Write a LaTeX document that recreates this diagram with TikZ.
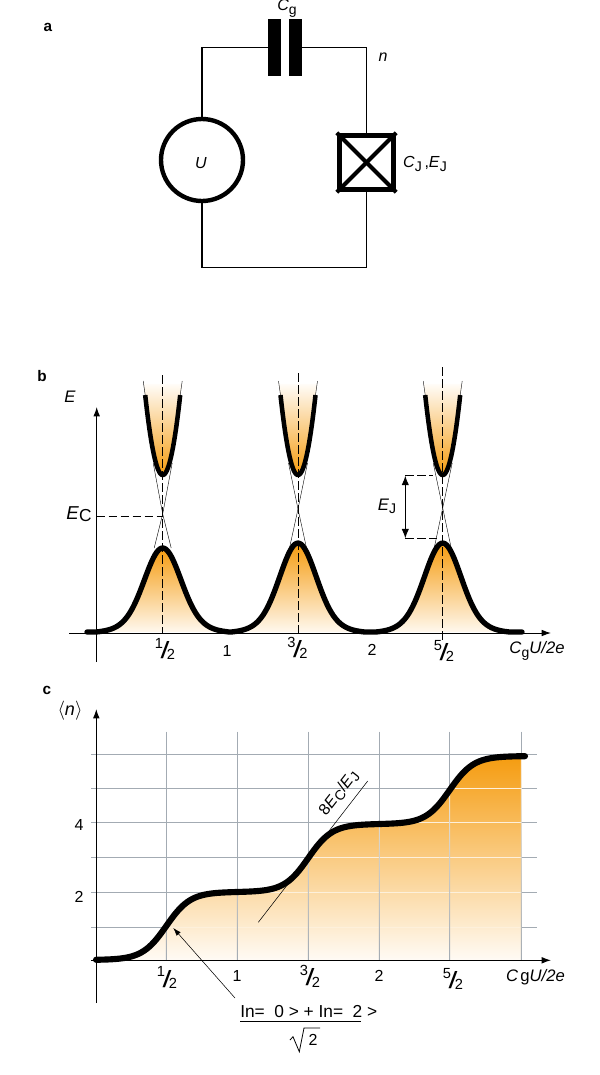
\documentclass[tikz,border=0pt]{standalone}
\usepackage{graphicx}
\usepackage{fontspec}
\setmainfont{Liberation Sans}
\usetikzlibrary{arrows.meta}
\definecolor{orangetop}{HTML}{F59C10}
\definecolor{palebot}{HTML}{FFF8EE}
\definecolor{gridgray}{HTML}{A3ABB3}
\newcommand{\lowsub}[1]{\raisebox{-2.5pt}{\fontsize{10.5}{11}\selectfont #1}}
\newcommand{\frc}[2]{\fontsize{11}{11}\selectfont\raisebox{4.4pt}{#1}\kern1.4pt\makebox[0pt][c]{\raisebox{-3.4pt}{\scalebox{1.5}[1.1]{\fontsize{16}{16}\selectfont\addfontfeatures{}/}}}\kern1.4pt\raisebox{-4.4pt}{#2}}
\pgfmathdeclarefunction{stp}{1}{\pgfmathparse{tanh(max(-4,min(4,(#1)/24)))}}
\pgfmathdeclarefunction{bell}{1}{\pgfmathparse{max(0,0.8*exp(-((#1)/17.5)^2/2)+0.2*exp(-((#1)/28)^2/2)-0.012)}}
\tikzset{
  lbl/.style={inner sep=0pt,font=\fontsize{12}{14}\selectfont},
  panel/.style={inner sep=0pt,font=\fontsize{11.5}{12}\selectfont\bfseries},
  wire/.style={line width=1.35pt},
  plate/.style={fill=black,draw=none,minimum width=9.5pt,minimum height=42.75pt,inner sep=0pt},
  axisline/.style={line width=.75pt,-{Latex[length=7pt,width=5pt]}},
  thickcurve/.style={line width=4pt,line cap=round,line join=round},
  thincross/.style={line width=.3pt},
  dashline/.style={line width=.6pt,dash pattern=on 6.5pt off 2.5pt},
  gridline/.style={line width=.75pt,draw=gridgray},
  bellfill/.style={top color=orangetop,bottom color=palebot,draw=none},
  cupfill/.style={top color=palebot!40!white,bottom color=orangetop,draw=none},
}
\begin{document}
\begin{tikzpicture}[x=0.75pt,y=-0.75pt]
\useasboundingbox (0,0) rectangle (600,1075);
% ---------- panel a
\node[panel] (pa) at (48,27) {a};
\node[plate] (capL) at (274.3,47.5) {};
\node[plate] (capR) at (295.6,47.5) {};
\node[circle,draw,line width=3.3pt,minimum size=61.5pt,inner sep=0pt] (src) at (202,160) {};
\node[rectangle,draw,line width=3.6pt,minimum size=41pt,inner sep=0pt] (jj) at (366.5,162.5) {};
\draw[line width=3pt] (jj.north west) -- (jj.south east);
\draw[line width=3pt] (jj.north east) -- (jj.south west);
\coordinate (bot) at (285,267.5);
\draw[wire] (src.north) |- (capL.west);
\draw[wire] (capR.east) -| (jj.north);
\draw[wire] (src.south) |- (bot) -| (jj.south);
\node[lbl] (lCg) at (287,8.5) {\textit{C}\lowsub{g}};
\node[lbl] (ln) at (383,57) {\textit{n}};
\node[lbl] (lU) at (201,163) {\textit{U}};
\node[lbl] (lCJ) at (425,164) {\textit{C}\lowsub{J}\,,\textit{E}\lowsub{J}};
% ---------- panel b
\node[panel] (pb) at (42,376) {b};
% fills
\shade[bellfill] plot[domain=87:228,samples=90,variable=\x] ({\x},{632-85*bell(\x-162.7)}) -- cycle;
\shade[bellfill] plot[domain=228:370,samples=90,variable=\x] ({\x},{632-90*bell(\x-298)}) -- cycle;
\shade[bellfill] plot[domain=370:522,samples=90,variable=\x] ({\x},{632-90*bell(\x-442.7)}) -- cycle;
\foreach \cx/\cy/\tp in {162.7/514/381,298/509/381,442.7/508/381}{
  \shade[cupfill] plot[domain=-19:19,samples=50,variable=\t] ({\cx+\t},{475-0.261*\t*\t*(abs(\t)<=17.5)-80*(abs(\t)>17.5)-(abs(\t)>17.5)*(abs(\t)-17.5)*7.5}) -- cycle;
  \draw[thincross] (\cx-9.5,463) -- (\cx,\cy) -- (\cx+8.5,548);
  \draw[thincross] (\cx+9.5,463) -- (\cx,\cy) -- (\cx-8.5,548);
  \draw[thincross] (\cx-17.5,395) -- (\cx-19.5,\tp);
  \draw[thincross] (\cx+17.5,395) -- (\cx+19.5,\tp);
  \draw[line width=3.4pt,line cap=butt] plot[domain=-17.5:17.5,samples=40,variable=\t] ({\cx+\t},{475-0.261*\t*\t});
}
\draw[thickcurve] plot[domain=87:228,samples=90,variable=\x] ({\x},{632-85*bell(\x-162.7)})
  -- plot[domain=228:370,samples=90,variable=\x] ({\x},{632-90*bell(\x-298)})
  -- plot[domain=370:522,samples=90,variable=\x] ({\x},{632-90*bell(\x-442.7)});
\coordinate (bvb) at (96.7,662);
\coordinate (bvt) at (96.7,407);
\coordinate (bhl) at (69,633);
\coordinate (bhr) at (551,633);
\draw[axisline] (bvb) -- (bvt);
\draw[axisline] (bhl) -- (bhr);
\draw[dashline] (162.7,375) -- (162.7,633);
\draw[dashline] (298,373) -- (298,633);
\draw[dashline] (442.7,367) -- (442.7,642);
\coordinate (ec) at (163,516);
\coordinate (ecax) at (96.7,516);
\draw[dashline] (ecax) -- (ec);
\coordinate (ej1) at (405.3,475.7);
\coordinate (ej2) at (405.3,538.3);
\coordinate (ej1r) at (433,475.7);
\coordinate (ej2r) at (437,538.3);
\draw[dashline] (ej1) -- (ej1r);
\draw[dashline] (ej2) -- (ej2r);
\draw[line width=.75pt,{Latex[length=7pt,width=5.5pt]}-{Latex[length=7pt,width=5.5pt]}] (ej1) -- (ej2);
\node[lbl,font=\fontsize{12.5}{14}\selectfont] (lE) at (70,397) {\textit{E}};
\node[lbl,font=\fontsize{14}{14}\selectfont] (lEC) at (79,514) {\textit{E}\raisebox{-1.5pt}{\fontsize{13}{13}\selectfont C}};
\node[lbl,font=\fontsize{12.5}{14}\selectfont] (lEJ) at (387,506) {\textit{E}\lowsub{J}};
\node[lbl] (b12) at (165,649) {\frc{1}{2}};
\node[lbl] (b1) at (227,651) {1};
\node[lbl] (b32) at (297.5,648) {\frc{3}{2}};
\node[lbl] (b2) at (372,650) {2};
\node[lbl] (b52) at (444,651) {\frc{5}{2}};
\node[lbl,font=\fontsize{12.5}{14}\selectfont] (bx) at (537,651) {\textit{C}\lowsub{g}\textit{U/2e}};
% ---------- panel c
\node[panel] (pc) at (47,690) {c};
\foreach \y in {754.3,788.3,822,857.3,892.3,927.3}{\draw[gridline] (91,\y) -- (537,\y);}
\foreach \x in {166.3,237.3,308.3,379.3,449.7,521.3}{\draw[gridline] (\x,731.7) -- (\x,960);}
\newcommand{\stair}{plot[domain=96:521.3,samples=180,variable=\x] ({\x},{960-34*(3+stp(\x-166.3)+stp(\x-308.3)+stp(\x-449.7))})}
\shade[top color=orangetop,bottom color=palebot!60!white,draw=none] \stair -- (521.3,960) -- (96,960) -- cycle;
\begin{scope}
\clip \stair -- (521.3,960) -- (96,960) -- cycle;
\foreach \y in {754.3,788.3,822,857.3,892.3,927.3}{\draw[line width=.75pt,white!85!orangetop] (91,\y) -- (537,\y);}
\foreach \x in {166.3,237.3,308.3,379.3,449.7,521.3}{
  \shade[top color=white!85!orangetop,bottom color=gridgray] (\x-.5,754) rectangle (\x+.5,960);}
\end{scope}
\coordinate (sa) at (258.3,922.3);
\coordinate (sb) at (367.7,781);
\draw[line width=.4pt] (sa) -- (sb);
\draw[line width=4.6pt,line cap=round,line join=round] plot[domain=96:525,samples=180,variable=\x] ({\x},{960-34*(3+stp(\x-166.3)+stp(\x-308.3)+stp(\x-449.7))});
\coordinate (cvb) at (96.3,1003);
\coordinate (cvt) at (96.3,709);
\coordinate (chl) at (91,960.3);
\coordinate (chr) at (551,960.3);
\draw[axisline] (cvb) -- (cvt);
\draw[axisline] (chl) -- (chr);
\node[lbl,font=\fontsize{13.5}{14}\selectfont] (ln2) at (70,711) {$\big\langle$\textit{n}$\big\rangle$};
\node[lbl] (c4) at (79,825) {4};
\node[lbl] (c2) at (79,897) {2};
\node[lbl] (c12) at (167,977.5) {\frc{1}{2}};
\node[lbl] (c1) at (237,976) {1};
\node[lbl] (c32) at (310,976) {\frc{3}{2}};
\node[lbl] (c22) at (379,976) {2};
\node[lbl] (c52) at (453,979) {\frc{5}{2}};
\node[lbl,font=\fontsize{12.5}{14}\selectfont] (cx) at (535.5,977) {\textit{C}\hspace{1.5pt}g\textit{U/2e}};
\node[lbl,rotate=52] (l8) at (339,793) {8\textit{E}\lowsub{C}/\textit{E}\lowsub{J}};
\node[lbl,anchor=west,font=\fontsize{13}{14}\selectfont] (num) at (240,1012) {In=\hspace{3.5pt} 0 > + In=\hspace{3.5pt} 2 >};
\coordinate (arr) at (173.3,928);
\coordinate (arrs) at (235,998);
\draw[line width=.4pt,-{Latex[length=6pt,width=4pt]}] (arrs) -- (arr);
\coordinate (fl) at (240,1021);
\coordinate (fr) at (361,1021);
\draw[line width=.6pt] (fl) -- (fr);
\node[lbl] (two) at (313,1040) {2};
\draw[line width=.6pt] (290,1040) -- (293,1036.7) -- (299.3,1051.7) -- (304,1028) -- (320,1028);
\end{tikzpicture}
\end{document}
